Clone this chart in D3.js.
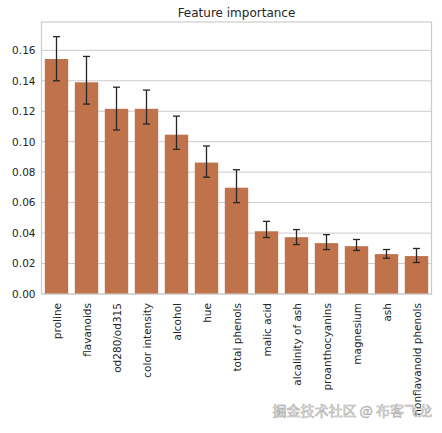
<!DOCTYPE html>
<html><head><meta charset="utf-8">
<script src="https://cdn.jsdelivr.net/npm/d3@7"></script>
<style>body{margin:0;background:#fff}text{font-family:"DejaVu Sans",sans-serif}</style>
</head><body><div id="chart"></div>
<script>
var features = ["proline","flavanoids","od280/od315","color intensity","alcohol","hue","total phenols","malic acid","alcalinity of ash","proanthocyanins","magnesium","ash","nonflavanoid phenols"]
var importance = [0.1543,0.139,0.1216,0.1216,0.1046,0.0863,0.0698,0.0412,0.0373,0.0334,0.0314,0.0262,0.0249]
var errLow = [0.140,0.1247,0.1077,0.1116,0.0950,0.0767,0.0600,0.0371,0.0325,0.0292,0.0286,0.0235,0.0207]
var errHigh = [0.169,0.156,0.1358,0.1339,0.1168,0.0972,0.0816,0.0477,0.0423,0.039,0.0358,0.0292,0.0299]
var yTicks = [0,0.02,0.04,0.06,0.08,0.10,0.12,0.14,0.16]

var margin = {top: 22, left: 41.5, right: 10.5, bottom: 139}
var width = 442 - margin.left - margin.right
var height = 433 - margin.top - margin.bottom

var svg = d3.select("#chart").append("svg").attr("width", 442).attr("height", 433)
var g = svg.append("g").attr("transform", "translate(" + margin.left + "," + margin.top + ")")

var x = d3.scaleBand().domain(features).range([0, width]).paddingInner(0.22).paddingOuter(0.11)
var y = d3.scaleLinear().domain([0, 0.1786]).range([height, 0])

// grid
g.selectAll(".grid").data(yTicks).enter().append("line")
    .attr("x1", 0).attr("x2", width)
    .attr("y1", function(d) { return y(d) }).attr("y2", function(d) { return y(d) })
    .attr("stroke", "#cccccc").attr("stroke-width", 1)

var yAxis = g.append("g").call(d3.axisLeft(y).tickValues(yTicks).tickFormat(d3.format(".2f")).tickSize(0).tickPadding(6))
yAxis.select(".domain").remove()
yAxis.selectAll("text").attr("font-size", "10.5px").attr("fill", "#262626")

// bars
g.selectAll(".bar").data(features).enter().append("rect")
    .attr("x", function(d) { return x(d) })
    .attr("y", function(d, i) { return y(importance[i]) })
    .attr("width", x.bandwidth())
    .attr("height", function(d, i) { return height - y(importance[i]) })
    .attr("fill", "#c0734a")

// error bars
var eb = g.selectAll(".err").data(features).enter().append("g").attr("stroke", "#262626").attr("stroke-width", 1.3)
eb.append("line")
    .attr("x1", function(d) { return x(d) + x.bandwidth()/2 }).attr("x2", function(d) { return x(d) + x.bandwidth()/2 })
    .attr("y1", function(d, i) { return y(errLow[i]) }).attr("y2", function(d, i) { return y(errHigh[i]) })
;[errLow, errHigh].forEach(function(arr) {
    eb.append("line")
        .attr("x1", function(d) { return x(d) + x.bandwidth()/2 - 3.5 }).attr("x2", function(d) { return x(d) + x.bandwidth()/2 + 3.5 })
        .attr("y1", function(d, i) { return y(arr[i]) }).attr("y2", function(d, i) { return y(arr[i]) })
})

// frame
g.append("rect").attr("width", width).attr("height", height).attr("fill", "none").attr("stroke", "#cccccc").attr("stroke-width", 1.2)

// x labels
g.selectAll(".xl").data(features).enter().append("text")
    .attr("transform", function(d) { return "translate(" + (x(d) + x.bandwidth()/2 + 4) + "," + (height + 9) + ") rotate(-90)" })
    .attr("text-anchor", "end").attr("font-size", "10.5px").attr("fill", "#262626")
    .text(function(d) { return d })

svg.append("text").attr("x", margin.left + width/2).attr("y", 17).attr("text-anchor", "middle")
    .attr("font-size", "12px").attr("fill", "#262626").text("Feature importance")

svg.append("text").attr("x", 432).attr("y", 416).attr("text-anchor", "end")
    .attr("font-size", "14px").attr("fill", "#ffffff").attr("stroke", "#aaaaaa").attr("stroke-width", 0.6)
    .style("font-family", "Noto Sans CJK SC").text("掘金技术社区 @ 布客飞龙")
</script></body></html>
